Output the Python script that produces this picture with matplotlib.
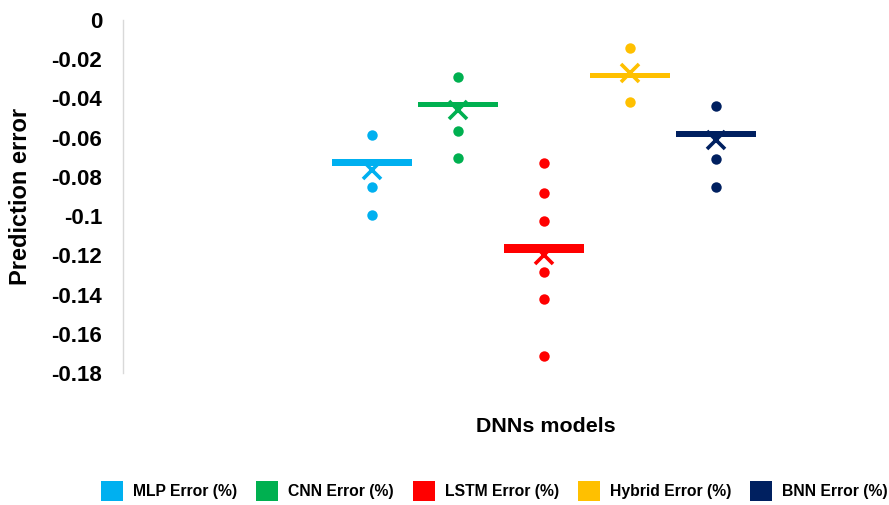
import matplotlib.pyplot as plt
from matplotlib.patches import Patch

plt.rcParams['font.family'] = ['Liberation Sans', 'DejaVu Sans']

# 每个模型的数据
models = ['MLP Error (%)', 'CNN Error (%)', 'LSTM Error (%)', 'Hybrid Error (%)', 'BNN Error (%)']
colors = ['#00B0F0', '#00B050', '#FF0000', '#FFC000', '#002060']

points = [
    [-0.0587, -0.0852, -0.0995],
    [-0.0291, -0.0566, -0.0704],
    [-0.0730, -0.0883, -0.1026, -0.1286, -0.1423, -0.1714],
    [-0.0143, -0.0418],
    [-0.0439, -0.0709, -0.0852],
]
box_top = [-0.0709, -0.0418, -0.1143, -0.0270, -0.0566]
box_bottom = [-0.0745, -0.0444, -0.1189, -0.0296, -0.0597]
means = [-0.0765, -0.0459, -0.1200, -0.0270, -0.0612]

y_ticks = [0, -0.02, -0.04, -0.06, -0.08, -0.1, -0.12, -0.14, -0.16, -0.18]
y_labels = ['0', '-0.02', '-0.04', '-0.06', '-0.08', '-0.1', '-0.12', '-0.14', '-0.16', '-0.18']

fig = plt.figure(figsize=(8.89, 5.05), dpi=100)
ax = fig.add_axes([123 / 889, 1 - 373 / 505, (880 - 123) / 889, (373 - 20) / 505])

for i in range(len(models)):
    c = colors[i]
    # 箱体（很扁，看起来像粗线）
    ax.bar(i, box_top[i] - box_bottom[i], bottom=box_bottom[i], width=0.92,
           color=c, edgecolor='none', zorder=2)
    ax.plot([i] * len(points[i]), points[i], 'o', color=c, markersize=7.5,
            markeredgewidth=0, zorder=3)
    ax.plot(i, means[i], marker='x', color=c, markersize=12.5, markeredgewidth=2.6,
            linestyle='none', zorder=4)

ax.set_xlim(-(372 - 123) / 86, (880 - 372) / 86)
ax.set_ylim(-0.18, 0)
ax.set_xticks([])
ax.set_yticks(y_ticks)
ax.set_yticklabels(y_labels, fontsize=16, fontweight='bold')
ax.tick_params(axis='y', length=0, pad=15)
for s in ['top', 'right', 'bottom']:
    ax.spines[s].set_visible(False)
ax.spines['left'].set_color('#D9D9D9')
ax.spines['left'].set_linewidth(1)

fig.text(21 / 889, 1 - 196 / 505, 'Prediction error', rotation=90, fontsize=17,
         fontweight='bold', ha='center', va='center')
fig.text(546 / 889, 1 - 427 / 505, 'DNNs models', fontsize=15.4,
         fontweight='bold', ha='center', va='center')

handles = [Patch(facecolor=c, edgecolor='none') for c in colors]
fs = 11.3
px = fs * 100 / 72
fig.legend(handles, models, loc='center left', bbox_to_anchor=(101 / 889, 1 - 491 / 505),
           ncol=5, frameon=False, prop={'weight': 'bold', 'size': fs}, borderpad=0,
           borderaxespad=0, handlelength=22 / px, handleheight=26 / px,
           handletextpad=10 / px, columnspacing=19 / px)

plt.savefig('out.png', dpi=100)
